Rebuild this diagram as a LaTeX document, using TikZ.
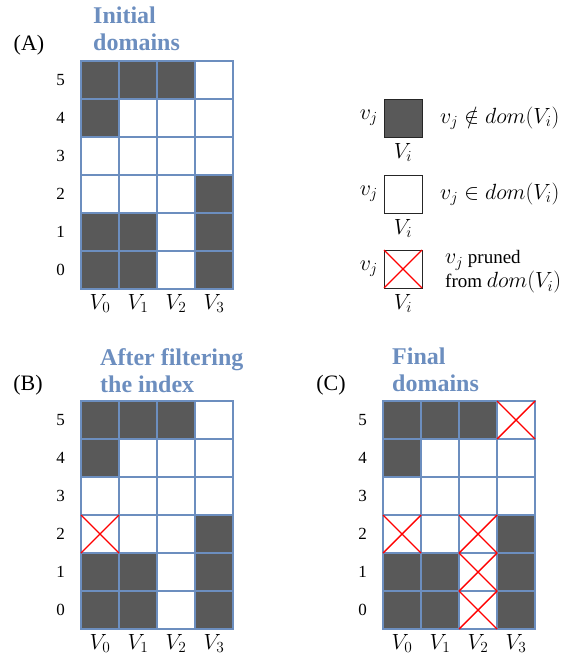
\RequirePackage{fix-cm}
\documentclass[tikz,border=0pt]{standalone}
\usepackage[no-math]{fontspec}
\setmainfont{Liberation Serif}
\usepackage{xcolor}
\usepackage{tikz}
\usetikzlibrary{positioning}

\definecolor{gridblue}{HTML}{6C8EBF}
\definecolor{darkcell}{HTML}{595959}

% one domain grid: name, left x, top y, cells outside the domain
\newcommand{\domgrid}[4]{%
  \foreach \c in {0,...,3}
    \foreach \r in {0,...,5}
      \node[cell] (#1-\c-\r) at ({#2+38*\c+19},{#3+38*(5-\r)+19}) {};
  \foreach \c/\r in {#4}
    \node[cell, fill=darkcell] (#1-\c-\r) at ({#2+38*\c+19},{#3+38*(5-\r)+19}) {};
  \foreach \r in {0,...,5}
    \node[rowlab, left=16pt of #1-0-\r] (#1-r\r) {\r};
  \foreach \c in {0,...,3}
    \node[collab, below=5pt of #1-\c-0] (#1-v\c) {$V_\c$};
}
\newcommand{\prunecell}[1]{%
  \draw[prune] (#1.north west) -- (#1.south east) (#1.north east) -- (#1.south west);
}
\newcommand{\keymath}[1]{{\fontsize{22}{20}\selectfont$#1$}}

\begin{document}
\begin{tikzpicture}[
    x=1pt, y=-1pt,
    cell/.style={draw=gridblue, line width=2pt, fill=white, minimum size=38pt, inner sep=0pt, outer sep=0pt},
    keybox/.style={draw=black!85, line width=0.8pt, minimum size=38pt, inner sep=0pt, outer sep=0pt},
    prune/.style={red, line width=1.4pt},
    title/.style={text=gridblue, font=\fontsize{24}{27}\selectfont\bfseries, align=left, inner sep=0pt, anchor=north west},
    tag/.style={font=\fontsize{22}{24}\selectfont, inner sep=0pt},
    rowlab/.style={font=\fontsize{17}{20}\selectfont, inner sep=0pt},
    collab/.style={font=\fontsize{22}{24}\selectfont, inner sep=0pt},
    keytext/.style={font=\fontsize{19}{21}\selectfont, inner sep=0pt, align=left}
]
    \useasboundingbox (0,0) rectangle (568,655);

    % (A) initial domains
    \node[tag] (tagA) at (29,45) {(A)};
    \node[title] (titleA) at (93,7) {Initial\\domains};
    \domgrid{A}{81}{61}{0/5,1/5,2/5,0/4,3/2,0/1,1/1,3/1,0/0,1/0,3/0}

    % (B) after filtering the index
    \node[tag] (tagB) at (28,385) {(B)};
    \node[title] (titleB) at (100,348) {After filtering\\the index};
    \domgrid{B}{81}{401}{0/5,1/5,2/5,0/4,3/2,0/1,1/1,3/1,0/0,1/0,3/0}
    \prunecell{B-0-2}

    % (C) final domains
    \node[tag] (tagC) at (331,385) {(C)};
    \node[title] (titleC) at (392,348) {Final\\domains};
    \domgrid{C}{383}{401}{0/5,1/5,2/5,0/4,3/2,0/1,1/1,3/1,0/0,1/0,3/0}
    \prunecell{C-3-5}
    \prunecell{C-0-2}
    \prunecell{C-2-2}
    \prunecell{C-2-1}
    \prunecell{C-2-0}

    % legend
    \node[keybox, fill=darkcell] (key1) at (403,118) {};
    \node[keybox, fill=white] (key2) at (403,194) {};
    \node[keybox, fill=white] (key3) at (403,269) {};
    \prunecell{key3}
    \foreach \k in {1,2,3} {
        \node[keytext, left=6pt of key\k] (vj\k) {\keymath{v_j}};
        \node[keytext, below=6pt of key\k] (Vi\k) {\keymath{V_i}};
    }
    \node[keytext, right=18pt of key1] (out1) {\keymath{v_j \notin dom(V_i)}};
    \node[keytext, right=18pt of key2] (in2) {\keymath{v_j \in dom(V_i)}};
    \node[keytext, right=23pt of key3, yshift=-3pt] (pr3) {\keymath{v_j} pruned\\from \keymath{dom(V_i)}};
\end{tikzpicture}
\end{document}
